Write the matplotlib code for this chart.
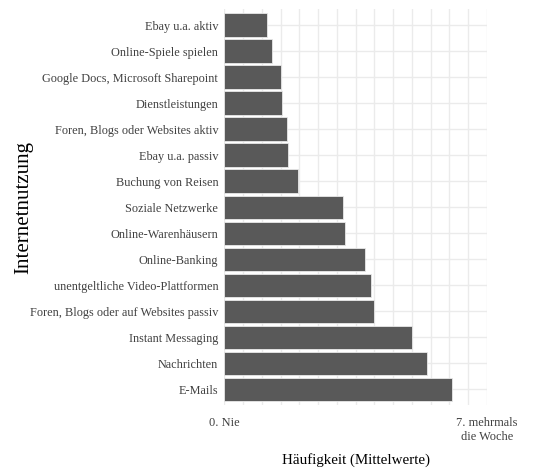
import matplotlib
matplotlib.use("Agg")
import matplotlib.pyplot as plt
import numpy as np

plt.rcParams['font.family'] = ['Liberation Serif', 'DejaVu Serif']

# top to bottom as in the chart
categories = ["Ebay u.a. aktiv", "Online-Spiele spielen", "Google Docs, Microsoft Sharepoint",
              "Dienstleistungen", "Foren, Blogs oder Websites aktiv", "Ebay u.a. passiv",
              "Buchung von Reisen", "Soziale Netzwerke", "Online-Warenhäusern", "Online-Banking",
              "unentgeltliche Video-Plattformen", "Foren, Blogs oder auf Websites passiv",
              "Instant Messaging", "Nachrichten", "E-Mails"]
values = [1.13, 1.26, 1.51, 1.54, 1.66, 1.70, 1.96, 3.17, 3.21, 3.76, 3.90, 3.98, 5.00, 5.41, 6.06]
xtick_pos = [0, 7]
xtick_labels = ["0. Nie", "7. mehrmals\ndie Woche"]

fig = plt.figure(figsize=(5.52, 4.73), dpi=100)
ax = fig.add_axes([0.4067, 0.1438, 0.4755, 0.8362])

n = len(categories)
ypos = np.arange(n)[::-1]
ax.barh(ypos, values, height=0.9, color="#595959", edgecolor="#e8e8e8", linewidth=0.6, zorder=2)

ax.set_xlim(0, 7)
ax.set_ylim(-0.6, n - 0.4)

# grid: every half unit vertically, one line per category horizontally
for gx in np.arange(0, 7.01, 0.5):
    ax.axvline(gx, color="#ebebeb", lw=1.0, zorder=0)
for gy in ypos:
    ax.axhline(gy, color="#ebebeb", lw=1.0, zorder=0)

ax.set_yticks(ypos)
ax.set_yticklabels(categories, fontsize=8.8, color="#404040")
ax.set_xticks(xtick_pos)
ax.set_xticklabels(xtick_labels, fontsize=8.9, color="#404040", linespacing=1.2)
ax.tick_params(length=0, pad=4.5)
ax.tick_params(axis="x", pad=9)

for s in ax.spines.values():
    s.set_visible(False)

fig.text(355.75 / 552, 1 - 460 / 473, "Häufigkeit (Mittelwerte)", fontsize=10.8,
         ha="center", va="center")
fig.text(24 / 552, 1 - 208 / 473, "Internetnutzung", fontsize=15, rotation=90,
         ha="center", va="center")

fig.savefig("out.png", dpi=100)
